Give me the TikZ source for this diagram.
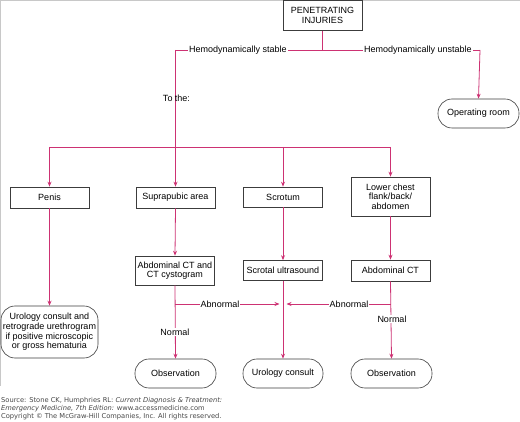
\documentclass[tikz,border=0pt]{standalone}
\usepackage{fontspec}
\setmainfont{Liberation Sans}
\newfontfamily\srcfont{DejaVu Sans}
\usetikzlibrary{arrows.meta}
\definecolor{lnk}{RGB}{205,50,115}
\definecolor{bdr}{RGB}{60,60,60}
\definecolor{frm}{RGB}{200,200,200}
\definecolor{srcgray}{RGB}{70,70,70}
\tikzset{
  box/.style={draw=bdr, line width=0.6pt, rectangle, inner sep=0pt, align=center, font=\fontsize{9}{9.6}\selectfont},
  term/.style={draw=bdr, line width=0.6pt, rectangle, rounded corners=14pt, inner sep=0pt, align=center, font=\fontsize{9}{9.6}\selectfont},
  conn/.style={draw=lnk, line width=0.8pt},
  arr/.style={conn, -{Stealth[length=5pt,width=4pt]}},
  lbl/.style={fill=white, inner sep=1pt, font=\fontsize{9}{10}\selectfont},
  src/.style={anchor=west, inner sep=0pt, text=srcgray, font=\srcfont\fontsize{6.7}{7}\selectfont}
}
\begin{document}
\begin{tikzpicture}[x=1pt,y=-1pt]
\useasboundingbox (0,0) rectangle (520,422);
\draw[frm, line width=0.8pt] (0,0.4) -- (520,0.4);
\draw[frm, line width=0.8pt] (0.4,0) -- (0.4,386);

\node[box, minimum width=79pt, minimum height=30pt] (pen) at (322.5,15.5) {PENETRATING\\INJURIES};
\node[term, minimum width=81pt, minimum height=29pt] (or) at (478.5,113.5) {Operating room};

\node[box, minimum width=79pt, minimum height=21pt] (penis) at (49.5,197.5) {Penis};
\node[box, minimum width=79pt, minimum height=21pt] (supra) at (175.5,197.5) {Suprapubic area};
\node[box, minimum width=79pt, minimum height=20pt] (scrot) at (283,197) {Scrotum};
\node[box, minimum width=79pt, minimum height=39pt] (lower) at (390.5,196.5) {Lower chest\\flank/back/\\abdomen};

\node[box, minimum width=79pt, minimum height=29pt] (act) at (175,270.5) {Abdominal CT and\\CT cystogram};
\node[box, minimum width=79pt, minimum height=20pt] (sus) at (283,270.5) {Scrotal ultrasound};
\node[box, minimum width=79pt, minimum height=21pt] (abct) at (390.5,270.5) {Abdominal CT};

\node[term, minimum width=97pt, minimum height=52pt] (uro) at (49.5,332) {Urology consult and\\retrograde urethrogram\\if positive microscopic\\or gross hematuria};
\node[term, minimum width=81pt, minimum height=29pt] (obs1) at (175.5,373.5) {Observation};
\node[term, minimum width=80pt, minimum height=29pt] (ucon) at (283,373.5) {Urology consult};
\node[term, minimum width=81pt, minimum height=29pt] (obs2) at (391.5,373.5) {Observation};

\coordinate (j0) at (322.5,50);
\coordinate (jl) at (175,50);
\coordinate (jr) at (480,50);
\coordinate (jd) at (175,147);
\coordinate (dl) at (49.5,147);
\coordinate (dr) at (390.5,147);
\coordinate (al) at (175,304);
\coordinate (ar) at (390.5,304);
\coordinate (tl) at (279.5,304);
\coordinate (tr) at (286.5,304);

\draw[conn] (pen.south) -- (j0);
\draw[conn] (jl) -- (jr);
\node[lbl] (hs) at (238,50) {Hemodynamically stable};
\node[lbl] (hu) at (418,50) {Hemodynamically unstable};
\draw[arr] (jr) -- (or.north);
\draw[conn] (jl) -- (jd);
\node[inner sep=0pt, font=\fontsize{9}{10}\selectfont] (tothe) at (176.5,98) {To the:};

\draw[conn] (dl) -- (dr);
\draw[arr] (dl) -- (penis.north);
\draw[arr] (175.5,147) -- (supra.north);
\draw[arr] (283,147) -- (scrot.north);
\draw[arr] (dr) -- (lower.north);

\draw[arr] (penis.south) -- (uro.north);
\draw[arr] (supra.south) -- (act.north);
\draw[arr] (scrot.south) -- (sus.north);
\draw[arr] (lower.south) -- (abct.north);

\draw[arr] (act.south) -- (obs1.north);
\node[lbl] (n1) at (175,332) {Normal};
\draw[arr] (al) -- (tl);
\node[lbl] (ab1) at (220,304) {Abnormal};
\draw[arr] (sus.south) -- (ucon.north);
\draw[arr] (abct.south) -- (obs2.north);
\node[lbl] (n2) at (392,319) {Normal};
\draw[arr] (ar) -- (tr);
\node[lbl] (ab2) at (349,304) {Abnormal};

\node[src] (s1) at (1,400.5) {Source: Stone CK, Humphries RL: \textit{Current Diagnosis \& Treatment:}};
\node[src] (s2) at (1,408.5) {\textit{Emergency Medicine, 7th Edition:} www.accessmedicine.com};
\node[src] (s3) at (1,417) {Copyright © The McGraw-Hill Companies, Inc. All rights reserved.};
\end{tikzpicture}
\end{document}
